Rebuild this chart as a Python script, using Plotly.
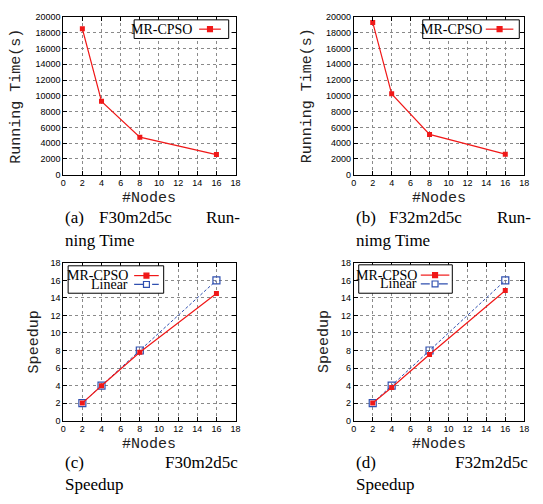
import plotly.graph_objects as go
from plotly.subplots import make_subplots

# the page body has an 8px margin, so the figure is drawn 8px in
OFF = 8
W, H = 543 - OFF, 504 - OFF

# data
nodes = [2, 4, 8, 16]
time_f30 = [18500, 9300, 4750, 2550]
time_f32 = [19300, 10250, 5100, 2600]
speedup_f30 = [2, 3.98, 7.8, 14.5]
speedup_f32 = [2, 3.77, 7.55, 14.85]
speedup_linear = [2, 4, 8, 16]

RED = '#f01818'
BLUE = '#3050b0'
SERIF = 'Liberation Serif, Times New Roman, serif'
MONO = 'Liberation Mono, Courier New, monospace'
SANS = 'Liberation Sans, Arial, sans-serif'


def px(x):
    return (x - OFF) / W


def py(y):
    return 1 - (y - OFF) / H


fig = make_subplots(rows=2, cols=2)

# running time (top)
fig.add_trace(go.Scatter(x=nodes, y=time_f30, mode='lines+markers', name='MR-CPSO',
                         line=dict(color=RED, width=1.2),
                         marker=dict(symbol='square', size=5, color=RED)), row=1, col=1)
fig.add_trace(go.Scatter(x=nodes, y=time_f32, mode='lines+markers', name='MR-CPSO',
                         line=dict(color=RED, width=1.2),
                         marker=dict(symbol='square', size=5, color=RED)), row=1, col=2)

# speedup (bottom)
for col, sp in [(1, speedup_f30), (2, speedup_f32)]:
    fig.add_trace(go.Scatter(x=nodes, y=speedup_linear, mode='lines+markers', name='Linear',
                             line=dict(color=BLUE, width=1, dash='3px,2px'),
                             marker=dict(symbol='square-open', size=7, color=BLUE,
                                         line=dict(width=1.2))), row=2, col=col)
    fig.add_trace(go.Scatter(x=nodes, y=sp, mode='lines+markers', name='MR-CPSO',
                             line=dict(color=RED, width=1.2),
                             marker=dict(symbol='square', size=5, color=RED)), row=2, col=col)

# plot areas in pixels: (x0, x1, ytop, ybottom)
boxes = {1: (61, 236, 12, 173), 2: (356, 529, 12, 173),
         3: (61, 236, 263, 424), 4: (356, 529, 263, 424)}
axis_common = dict(showline=True, linecolor='black', linewidth=1, mirror='ticks',
                   ticks='inside', ticklen=4, tickcolor='black', zeroline=False,
                   showgrid=True, gridcolor='#8a8a8a', griddash='dot', gridwidth=1,
                   tickformat='d', tickfont=dict(family=SANS, size=9, color='black'))
for i, (x0, x1, yt, yb) in boxes.items():
    sx = '' if i == 1 else str(i)
    fig.layout['xaxis' + sx].update(domain=[px(x0), px(x1)], range=[0, 18], dtick=2, **axis_common)
    if i <= 2:
        fig.layout['yaxis' + sx].update(domain=[py(yb), py(yt)], range=[0, 20000], dtick=2000, **axis_common)
    else:
        fig.layout['yaxis' + sx].update(domain=[py(yb), py(yt)], range=[0, 18], dtick=2, **axis_common)

ann = []


def text(x, y, s, font, xa='center', ya='middle', angle=0):
    ann.append(dict(x=px(x), y=py(y), text=s, showarrow=False, xanchor=xa, yanchor=ya,
                    textangle=angle, xref='paper', yref='paper', font=font))


mono = dict(family=MONO, size=15, color='#222')
serif = dict(family=SERIF, size=17, color='black')

# axis titles
for i, (x0, x1, yt, yb) in boxes.items():
    text((x0 + x1) / 2, yb + 24, '#Nodes', mono)
    if i <= 2:
        text(x0 - 47, (yt + yb) / 2, 'Running Time(s)', mono, angle=-90)
    else:
        text(x0 - 29, (yt + yb) / 2, 'Speedup', mono, angle=-90)

# captions (justified in the original)
for dx, lab, name in [(0, '(a)', 'F30m2d5c'), (295, '(b)', 'F32m2d5c')]:
    text(61 + dx, 217, lab, serif, 'left')
    text(95 + dx, 217, name, serif, 'left')
    text(243 + dx, 217, 'Run-', serif, 'right')
text(61, 240, 'ning Time', serif, 'left')
text(356, 240, 'nimg Time', serif, 'left')
for dx, lab, name in [(0, '(c)', 'F30m2d5c'), (295, '(d)', 'F32m2d5c')]:
    text(61 + dx, 467, lab, serif, 'left')
    text(240 + dx, 467, name, serif, 'right')
    text(61 + dx, 489, 'Speedup', serif, 'left')

# gnuplot-style key boxes: text right-aligned, sample to its right
shapes = []


def key(box, rows):
    x0, y0, x1, y1 = box
    shapes.append(dict(type='rect', xref='paper', yref='paper', x0=px(x0), x1=px(x1),
                       y0=py(y0), y1=py(y1), line=dict(color='black', width=1),
                       fillcolor='white', layer='above'))
    for label, ty, tx, lx0, lx1, color, dash, filled in rows:
        text(tx, ty, label, dict(family=SERIF, size=14, color='black'), 'right')
        shapes.append(dict(type='line', xref='paper', yref='paper', x0=px(lx0), x1=px(lx1),
                           y0=py(ty), y1=py(ty), line=dict(color=color, width=1.2, dash=dash),
                           layer='above'))
        mx = (lx0 + lx1) / 2
        s = 2.5 if filled else 3
        shapes.append(dict(type='rect', xref='paper', yref='paper', x0=px(mx - s), x1=px(mx + s),
                           y0=py(ty - s), y1=py(ty + s), line=dict(color=color, width=1.2),
                           fillcolor=color if filled else 'white', layer='above'))


key((133, 15, 229, 34), [('MR-CPSO', 24.5, 194, 199, 221, RED, 'solid', True)])
key((426, 15, 524, 34), [('MR-CPSO', 24.5, 488, 490, 518, RED, 'solid', True)])
key((66, 266, 163, 294), [('MR-CPSO', 276, 129, 133, 158, RED, 'solid', True),
                          ('Linear', 285, 129, 133, 158, BLUE, 'dash', False)])
key((361, 265, 456, 294), [('MR-CPSO', 275.5, 422, 424, 453, RED, 'solid', True),
                           ('Linear', 284.5, 422, 424, 453, BLUE, 'dash', False)])

fig.update_layout(width=W, height=H, margin=dict(l=0, r=0, t=0, b=0),
                  paper_bgcolor='white', plot_bgcolor='white', showlegend=False,
                  annotations=ann, shapes=shapes)

fig.write_html("out.html")
